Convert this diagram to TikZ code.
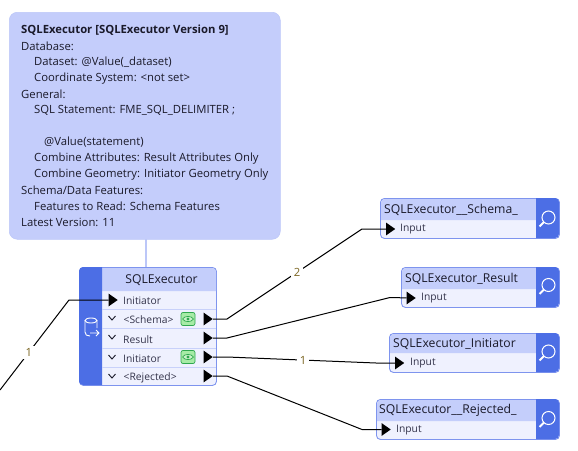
\documentclass[tikz,border=0pt]{standalone}
\usepackage{fontspec}
\setmainfont{Open Sans}
\usetikzlibrary{arrows.meta,positioning,calc,shapes.geometric}
\definecolor{ink}{HTML}{1A1A2A}
\definecolor{portTxt}{HTML}{33334A}
\definecolor{cntC}{HTML}{7A6420}
\definecolor{sideC}{HTML}{4C6EE5}
\definecolor{bandC}{HTML}{C4CEFB}
\definecolor{rowC}{HTML}{EFF1FE}
\definecolor{sepC}{HTML}{C8D1FA}
\definecolor{edgeC}{HTML}{7E94EE}
\definecolor{noteC}{HTML}{C4CDFB}
\definecolor{stemC}{HTML}{BCC7F8}
\definecolor{eyeC}{HTML}{2FA84F}
\definecolor{eyeFill}{HTML}{A6EBA6}
\tikzset{
  notetxt/.style={font=\fontsize{11.3}{13}\selectfont,text=ink,anchor=west,inner sep=0pt},
  ttl/.style={font=\fontsize{12.2}{14}\selectfont,text=ink,inner sep=0pt},
  porttxt/.style={font=\fontsize{10.3}{12}\selectfont,text=portTxt,anchor=west,inner sep=0pt},
  port/.style={draw=none,fill=black,isosceles triangle,isosceles triangle apex angle=70,
    minimum height=9pt,minimum width=10pt,inner sep=0pt,anchor=center},
  box/.style={draw=edgeC,line width=0.9pt,fill=rowC,rounded corners=4pt,anchor=north west,inner sep=0pt},
  wire/.style={draw=black,line width=1pt},
  cnt/.style={font=\fontsize{11.3}{13}\selectfont,text=cntC,fill=white,inner sep=2.5pt},
  chev/.style={draw=ink,line width=0.9pt},
  eyebtn/.style={draw=eyeC,line width=0.7pt,fill=eyeFill,rounded corners=2pt,minimum width=14pt,
    minimum height=13pt,inner sep=0pt},
  lens/.style={draw=white,line width=1pt},
  lenshandle/.style={draw=white,line width=1.8pt}}
\begin{document}
\begin{tikzpicture}[x=1pt,y=-1pt]
\useasboundingbox (0,0) rectangle (578,450);
% annotation
\draw[stemC,line width=2pt] (146,239) -- (146,267);
\node[draw=stemC,line width=0.5pt,fill=noteC,rounded corners=8pt,minimum width=271pt,minimum height=227pt,anchor=north west,inner sep=0pt] (note) at (9,12) {};
\node[notetxt,font=\fontsize{11.3}{13}\selectfont\bfseries] (n1) at (21,30.5) {SQLExecutor [SQLExecutor Version 9]};
\node[notetxt] (n2) at (21,46.5) {Database:};
\node[notetxt] (n3) at (34,62.5) {Dataset: @Value(\_dataset)};
\node[notetxt] (n4) at (34,78.5) {Coordinate System: <not set>};
\node[notetxt] (n5) at (21,94.5) {General:};
\node[notetxt] (n6) at (34,110.5) {SQL Statement: FME\_SQL\_DELIMITER ;};
\node[notetxt] (n7) at (44,142.5) {@Value(statement)};
\node[notetxt] (n8) at (34,158.5) {Combine Attributes: Result Attributes Only};
\node[notetxt] (n9) at (34,174.5) {Combine Geometry: Initiator Geometry Only};
\node[notetxt] (n10) at (21,190.5) {Schema/Data Features:};
\node[notetxt] (n11) at (34,206.5) {Features to Read: Schema Features};
\node[notetxt] (n12) at (21,222.5) {Latest Version: 11};
% transformer
\node[box,minimum width=137pt,minimum height=118pt] (exec) at (79,267) {};
\fill[bandC] (102,268) -- (212,268) [rounded corners=4pt] -- (216,268) [sharp corners] -- (216,291) -- (102,291) -- cycle;
\fill[sideC] (102,267) [rounded corners=4pt] -- (79,267) -- (79,385) [sharp corners] -- (102,385) -- cycle;
\draw[sepC,line width=0.8pt] (102,309.5) -- (216,309.5) (102,328.5) -- (216,328.5) (102,348) -- (216,348) (102,367) -- (216,367);
\node[ttl] (execT) at (161.5,280) {SQLExecutor};
\draw[white,line width=0.9pt] (91,320.5) circle[x radius=6,y radius=2.5];
\draw[white,line width=0.9pt] (85,320.5) -- (85,332) .. controls (85,335) and (87,336) .. (90,336) (97,320.5) -- (97,328);
\draw[white,line width=0.9pt] (90,333) -- (99,333) (96,330) -- (99,333) -- (96,336);
\node[port] (inInit) at (112,300) {};
\node[porttxt] (lInit) at (123,300.5) {Initiator};
\node[port] (oSchema) at (207,319) {};
\node[port] (oResult) at (207,338) {};
\node[port] (oInit) at (207,357) {};
\node[port] (oRej) at (207,376) {};
\node[porttxt] (lSchema) at (123.5,319.5) {<Schema>};
\node[porttxt] (lResult) at (123,339.5) {Result};
\node[porttxt] (lOutInit) at (123,358.5) {Initiator};
\node[porttxt] (lRej) at (123.5,377.5) {<Rejected>};
\draw[chev] (108.5,316) -- (112,320) -- (115.5,316);
\draw[chev] (108.5,335) -- (112,339) -- (115.5,335);
\draw[chev] (108.5,355) -- (112,359) -- (115.5,355);
\draw[chev] (108.5,374) -- (112,378) -- (115.5,374);
\node[eyebtn] (eye1) at (188,319) {};
\node[eyebtn] (eye2) at (188,357) {};
\draw[eyeC,line width=0.7pt,fill=eyeFill!60] (182.5,319) .. controls (185,315.5) and (191,315.5) .. (193.5,319) .. controls (191,322.5) and (185,322.5) .. (182.5,319);
\fill[eyeC] (188,319) circle[radius=1.7];
\draw[eyeC,line width=0.7pt,fill=eyeFill!60] (182.5,357) .. controls (185,353.5) and (191,353.5) .. (193.5,357) .. controls (191,360.5) and (185,360.5) .. (182.5,357);
\fill[eyeC] (188,357) circle[radius=1.7];
% outputs
\node[box,minimum width=179pt,minimum height=40pt] (tSchema) at (380,198) {};
\fill[bandC] (536,199) -- (536,220) -- (381,220) [rounded corners=4pt] -- (381,199) [sharp corners] -- cycle;
\fill[sideC] (536,198) [rounded corners=4pt] -- (559,198) -- (559,238) [sharp corners] -- (536,238) -- cycle;
\node[ttl,anchor=west] (tSchemaT) at (384,209.5) {SQLExecutor\_\_Schema\_};
\node[port] (iSchema) at (389.5,229) {};
\node[porttxt] (lSchemaI) at (400,229.5) {Input};
\node[box,minimum width=158pt,minimum height=40pt] (tResult) at (401,267) {};
\fill[bandC] (536,268) -- (536,289) -- (402,289) [rounded corners=4pt] -- (402,268) [sharp corners] -- cycle;
\fill[sideC] (536,267) [rounded corners=4pt] -- (559,267) -- (559,307) [sharp corners] -- (536,307) -- cycle;
\node[ttl,anchor=west] (tResultT) at (405,278.5) {SQLExecutor\_Result};
\node[port] (iResult) at (410,298) {};
\node[porttxt] (lResultI) at (421,298.5) {Input};
\node[box,minimum width=170pt,minimum height=39pt] (tInit) at (389,333) {};
\fill[bandC] (536,334) -- (536,353) -- (390,353) [rounded corners=4pt] -- (390,334) [sharp corners] -- cycle;
\fill[sideC] (536,333) [rounded corners=4pt] -- (559,333) -- (559,372) [sharp corners] -- (536,372) -- cycle;
\node[ttl,anchor=west] (tInitT) at (393,344) {SQLExecutor\_Initiator};
\node[port] (iInit) at (398.5,363) {};
\node[porttxt] (lInitI) at (410,363.5) {Input};
\node[box,minimum width=183pt,minimum height=40pt] (tRej) at (376,399) {};
\fill[bandC] (536,400) -- (536,421) -- (377,421) [rounded corners=4pt] -- (377,400) [sharp corners] -- cycle;
\fill[sideC] (536,399) [rounded corners=4pt] -- (559,399) -- (559,439) [sharp corners] -- (536,439) -- cycle;
\node[ttl,anchor=west] (tRejT) at (379,410.5) {SQLExecutor\_\_Rejected\_};
\node[port] (iRej) at (385,429.5) {};
\node[porttxt] (lRejI) at (396,430) {Input};
% magnifiers
\draw[lens] (548.5,217.5) circle[radius=6.5];
\draw[lenshandle] (544,222) -- (539.5,226.5);
\draw[lens] (548.5,285) circle[radius=6.5];
\draw[lenshandle] (544,289.5) -- (539.5,294);
\draw[lens] (548.5,351.5) circle[radius=6.5];
\draw[lenshandle] (544,356) -- (539.5,360.5);
\draw[lens] (548.5,418) circle[radius=6.5];
\draw[lenshandle] (544,422.5) -- (539.5,427);
% connectors
\coordinate (start) at (0,390);
\coordinate (jIn) at (69,300);
\coordinate (jS1) at (227,319);
\coordinate (jS2) at (362,229);
\coordinate (jR1) at (227,338);
\coordinate (jR2) at (390,297.5);
\coordinate (jI1) at (227,357);
\coordinate (jI2) at (376,363);
\coordinate (jJ1) at (227,376);
\coordinate (jJ2) at (362,429.5);
\draw[wire] (start) -- node[cnt,pos=0.42] (c1) {1} (jIn) -- (inInit);
\draw[wire] (oSchema) -- (jS1) -- node[cnt,pos=0.52] (c2) {2} (jS2) -- (iSchema);
\draw[wire] (oResult) -- (jR1) -- (jR2) -- (iResult);
\draw[wire] (oInit) -- (jI1) -- node[cnt,pos=0.51] (c3) {1} (jI2) -- (iInit);
\draw[wire] (oRej) -- (jJ1) -- (jJ2) -- (iRej);
\end{tikzpicture}
\end{document}
